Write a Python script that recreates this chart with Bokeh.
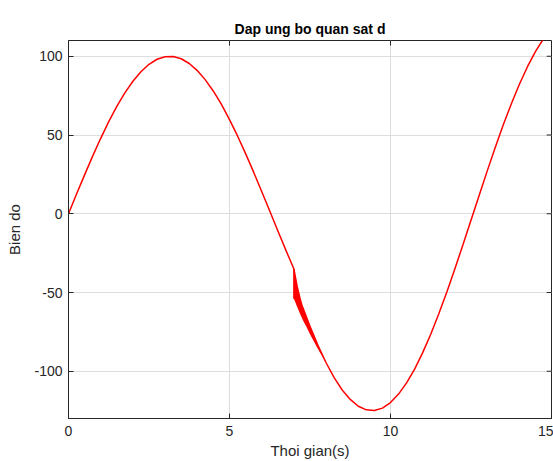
from bokeh.plotting import figure
from bokeh.models import Range1d, FixedTicker, Title, PrintfTickFormatter
from bokeh.embed import file_html
from bokeh.resources import INLINE

# Main response curve (time in s, amplitude)
t_main = [0.0, 0.25, 0.5, 0.75, 1.0, 1.25, 1.5, 1.75, 2.0, 2.25, 2.5, 2.75, 3.0,
          3.25, 3.5, 3.75, 4.0, 4.25, 4.5, 4.75, 5.0, 5.25, 5.5, 5.75, 6.0, 6.25,
          6.5, 6.75, 7.0, 7.1, 7.2, 7.25, 7.5, 7.75, 8.0, 8.25, 8.5, 8.75, 9.0,
          9.25, 9.5, 9.75, 10.0, 10.25, 10.5, 10.75, 11.0, 11.25, 11.5, 11.75,
          12.0, 12.25, 12.5, 12.75, 13.0, 13.25, 13.5, 13.75, 14.0, 14.25, 14.5,
          14.75, 15.0]
d_main = [0.0, 12.5, 24.7, 36.6, 47.9, 58.5, 68.2, 76.7, 84.1, 90.2, 94.9, 98.1, 99.7,
          99.9, 98.4, 95.4, 90.9, 85.0, 77.8, 69.4, 59.8, 49.4, 38.2, 26.4, 14.1, 1.7,
          -10.8, -23.1, -35.1, -46.0, -54.5, -58.1, -71.5, -83.7, -94.6, -104.0, -111.9,
          -117.9, -122.2, -124.5, -124.9, -123.4, -119.9, -114.5, -107.4, -98.6, -88.2,
          -76.5, -63.5, -49.7, -34.9, -19.7, -4.1, 11.4, 26.9, 41.9, 56.3, 69.7, 82.1,
          93.2, 102.9, 111.0, 117.3]

# Chattering band after t = 7 s (upper / lower envelope)
t_chat = [7.0, 7.1, 7.2, 7.3, 7.4, 7.5, 7.6, 7.7, 7.8, 7.9, 8.0]
chat_hi = [-35.1, -46.0, -54.5, -60.9, -66.2, -71.5, -76.5, -81.3, -86.0, -90.4, -94.6]
chat_lo = [-54.0, -59.0, -64.0, -68.4, -72.2, -76.5, -80.3, -84.1, -87.8, -91.2, -94.6]

x_ticks = [0, 5, 10, 15]
y_ticks = [-100, -50, 0, 50, 100]
X_MIN, X_MAX = 0, 15
Y_MIN, Y_MAX = -130, 110

FONT = "Liberation Sans"
AX = "#262626"

p = figure(width=553, height=461, output_backend="svg", toolbar_location=None,
           x_range=Range1d(X_MIN, X_MAX), y_range=Range1d(Y_MIN, Y_MAX),
           min_border_left=68, min_border_right=2, min_border_top=40,
           min_border_bottom=43, background_fill_color="white",
           border_fill_color="white")
p.title = Title(text="Dap ung bo quan sat d", align="center",
                text_font=FONT, text_font_size="14px", text_font_style="bold",
                text_color="black", offset=0, standoff=8)
p.outline_line_color = AX
p.outline_line_width = 1

for ax, ticks, label in ((p.xaxis[0], x_ticks, "Thoi gian(s)"), (p.yaxis[0], y_ticks, "Bien do")):
    ax.ticker = FixedTicker(ticks=ticks)
    ax.formatter = PrintfTickFormatter(format="%d")
    ax.axis_label = label
    ax.axis_label_text_font = FONT
    ax.axis_label_text_font_size = "15px"
    ax.axis_label_text_font_style = "normal"
    ax.axis_label_text_color = AX
    ax.major_label_text_font = FONT
    ax.major_label_text_font_size = "14px"
    ax.major_label_text_color = AX
    ax.axis_line_color = AX
    ax.major_tick_line_color = AX
    ax.major_tick_in = 5
    ax.major_tick_out = 0
    ax.minor_tick_line_color = None
p.xaxis[0].major_label_standoff = 7
p.xaxis[0].axis_label_standoff = 3
p.yaxis[0].major_label_standoff = 6
p.yaxis[0].axis_label_standoff = 8

p.xgrid.ticker = FixedTicker(ticks=x_ticks)
p.ygrid.ticker = FixedTicker(ticks=y_ticks)
p.grid.grid_line_color = "#dedede"
p.grid.grid_line_width = 1

p.varea(x=t_chat, y1=chat_lo, y2=chat_hi, fill_color="#ff0000")
p.line(t_main, d_main, line_color="#ff0000", line_width=1.5)
p.line(t_chat[:1] * 2, [chat_hi[0], chat_lo[0]], line_color="#ff0000", line_width=1.5)

# inward tick marks on the top and right box edges (tick length ~ 1/100 of each range span)
TX = (X_MAX - X_MIN) / 100
TY = (Y_MAX - Y_MIN) / 75
p.segment(x0=[X_MAX] * len(y_ticks), y0=y_ticks, x1=[X_MAX - TX] * len(y_ticks), y1=y_ticks,
          line_color=AX, line_width=1)
p.segment(x0=x_ticks, y0=[Y_MAX] * len(x_ticks), x1=x_ticks, y1=[Y_MAX - TY] * len(x_ticks),
          line_color=AX, line_width=1)

open("out.html", "w").write(file_html(p, INLINE))
